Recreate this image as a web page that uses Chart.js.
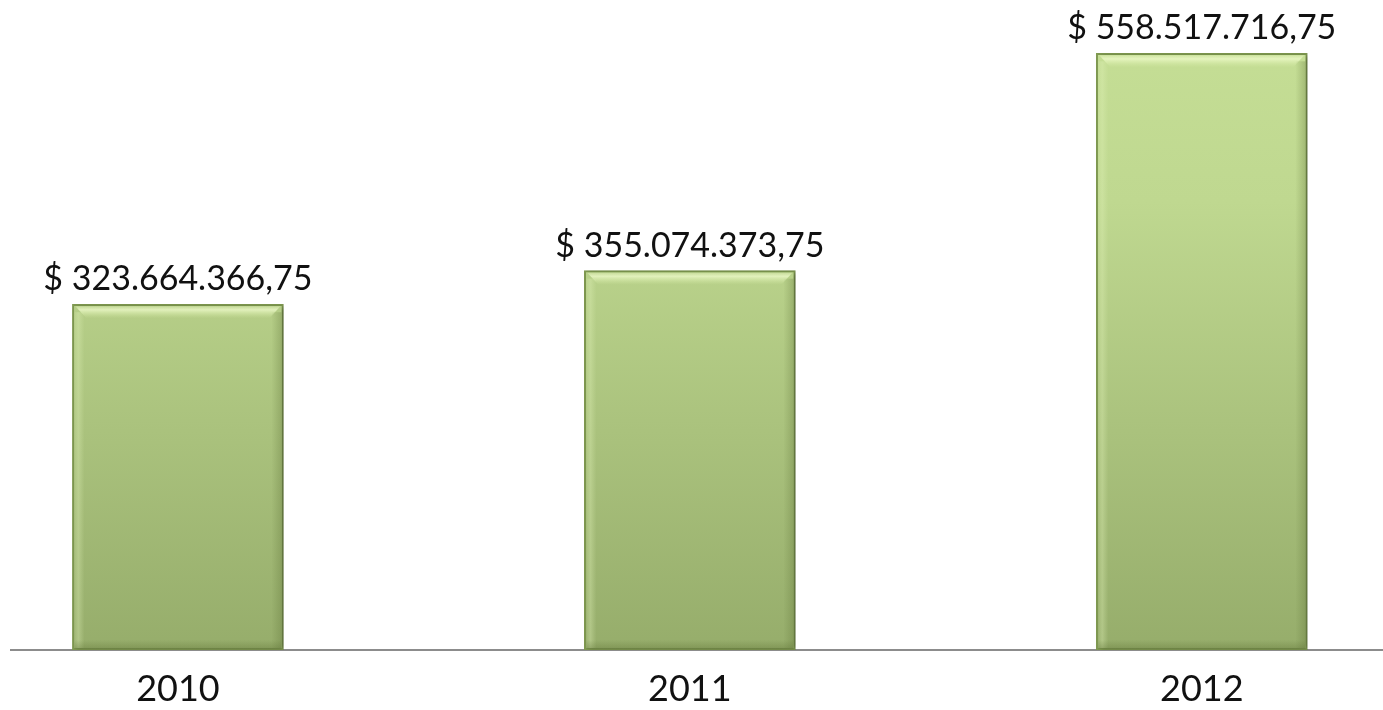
<!DOCTYPE html>
<html>
<head>
<meta charset="utf-8">
<script src="https://cdn.jsdelivr.net/npm/chart.js@4/dist/chart.umd.min.js"></script>
<style>
html,body{margin:0;padding:0;background:#fff;}
#wrap{width:1383px;height:710px;}
</style>
</head>
<body>
<div id="wrap"><canvas id="c"></canvas></div>
<script>
const categories = ['2010', '2011', '2012'];
const values = [323664366.75, 355074373.75, 558517716.75];

function fmt(v){
  const parts = v.toFixed(2).split('.');
  const intPart = parts[0].replace(/\B(?=(\d{3})+(?!\d))/g, '.');
  return '$ ' + intPart + ',' + parts[1];
}

const FONT = 'Lato, "Open Sans", sans-serif';

const labelPlugin = {
  id: 'valueLabels',
  afterDatasetsDraw(chart){
    const ctx = chart.ctx;
    const meta = chart.getDatasetMeta(0);
    ctx.save();
    ctx.font = '34px ' + FONT;
    ctx.fillStyle = '#111';
    ctx.textAlign = 'center';
    ctx.textBaseline = 'alphabetic';
    meta.data.forEach((el, i) => {
      ctx.fillText(fmt(values[i]), el.x, el.y - 14);
    });
    ctx.restore();
  }
};

const shadowPlugin = {
  id: 'barShadow',
  beforeDatasetDraw(chart){
    const ctx = chart.ctx;
    ctx.save();
    ctx.shadowColor = 'rgba(0,0,0,0.28)';
    ctx.shadowBlur = 5;
    ctx.shadowOffsetX = 3;
    ctx.shadowOffsetY = 1;
  },
  afterDatasetDraw(chart){
    chart.ctx.restore();
  }
};

const bevelPlugin = {
  id: 'bevel',
  afterDatasetDraw(chart){
    const ctx = chart.ctx;
    const meta = chart.getDatasetMeta(0);
    ctx.save();
    meta.data.forEach(el => {
      const half = el.width / 2;
      const l = el.x - half, r = el.x + half, t = el.y, b = el.base;
      const g = ctx.createLinearGradient(0, t, 0, t + 14);
      g.addColorStop(0, 'rgba(240,250,200,0.0)');
      g.addColorStop(0.4, 'rgba(240,252,205,0.75)');
      g.addColorStop(1, 'rgba(220,240,170,0)');
      ctx.fillStyle = g;
      ctx.beginPath();
      ctx.moveTo(l + 3, t + 2);
      ctx.lineTo(r - 3, t + 2);
      ctx.lineTo(r - 14, t + 14);
      ctx.lineTo(l + 14, t + 14);
      ctx.closePath();
      ctx.fill();
      const gl = ctx.createLinearGradient(l, 0, l + 12, 0);
      gl.addColorStop(0, 'rgba(230,245,190,0.0)');
      gl.addColorStop(0.5, 'rgba(225,242,185,0.35)');
      gl.addColorStop(1, 'rgba(225,242,185,0)');
      ctx.fillStyle = gl;
      ctx.fillRect(l + 2, t + 8, 12, b - t - 10);
      const gr = ctx.createLinearGradient(r - 12, 0, r, 0);
      gr.addColorStop(0, 'rgba(90,110,50,0)');
      gr.addColorStop(1, 'rgba(90,110,50,0.35)');
      ctx.fillStyle = gr;
      ctx.fillRect(r - 12, t + 8, 10, b - t - 10);
      const gb = ctx.createLinearGradient(0, b - 10, 0, b);
      gb.addColorStop(0, 'rgba(90,110,50,0)');
      gb.addColorStop(1, 'rgba(90,110,50,0.4)');
      ctx.fillStyle = gb;
      ctx.fillRect(l + 2, b - 10, r - l - 4, 9);
    });
    ctx.restore();
  }
};

new Chart(document.getElementById('c'), {
  type: 'bar',
  data: {
    datasets: [{
      data: values.map((v, i) => ({x: i, y: v})),
      barThickness: 211,
      backgroundColor(ctx){
        const chart = ctx.chart;
        const area = chart.chartArea;
        if (!area) return '#b5cd85';
        const el = ctx.element;
        const top = el && isFinite(el.y) ? el.y : area.top;
        const g = chart.ctx.createLinearGradient(0, top, 0, area.bottom);
        g.addColorStop(0, '#c6df96');
        g.addColorStop(0.3, '#bfd890');
        g.addColorStop(1, '#96ad6b');
        return g;
      },
      borderColor: '#7f9950',
      borderWidth: 2,
      borderSkipped: false
    }]
  },
  options: {
    responsive: true,
    maintainAspectRatio: false,
    animation: false,
    layout: { padding: { left: 11, right: 0, top: 9, bottom: 0 } },
    plugins: { legend: { display: false }, tooltip: { enabled: false } },
    scales: {
      x: {
        type: 'linear',
        offset: false,
        bounds: 'ticks',
        min: -0.326,
        max: 2.354,
        grid: { display: false },
        border: { color: '#8c8c8c', width: 2 },
        afterFit(scale){ scale.height = 60; },
        ticks: {
          stepSize: 1,
          includeBounds: false,
          autoSkip: false,
          maxRotation: 0,
          padding: 10,
          color: '#111',
          font: { family: FONT, size: 36 },
          callback(v){ return Number.isInteger(v) ? categories[v] : ''; }
        }
      },
      y: {
        display: false,
        min: 0,
        max: 600000000
      }
    }
  },
  plugins: [shadowPlugin, bevelPlugin, labelPlugin]
});
</script>
</body>
</html>
